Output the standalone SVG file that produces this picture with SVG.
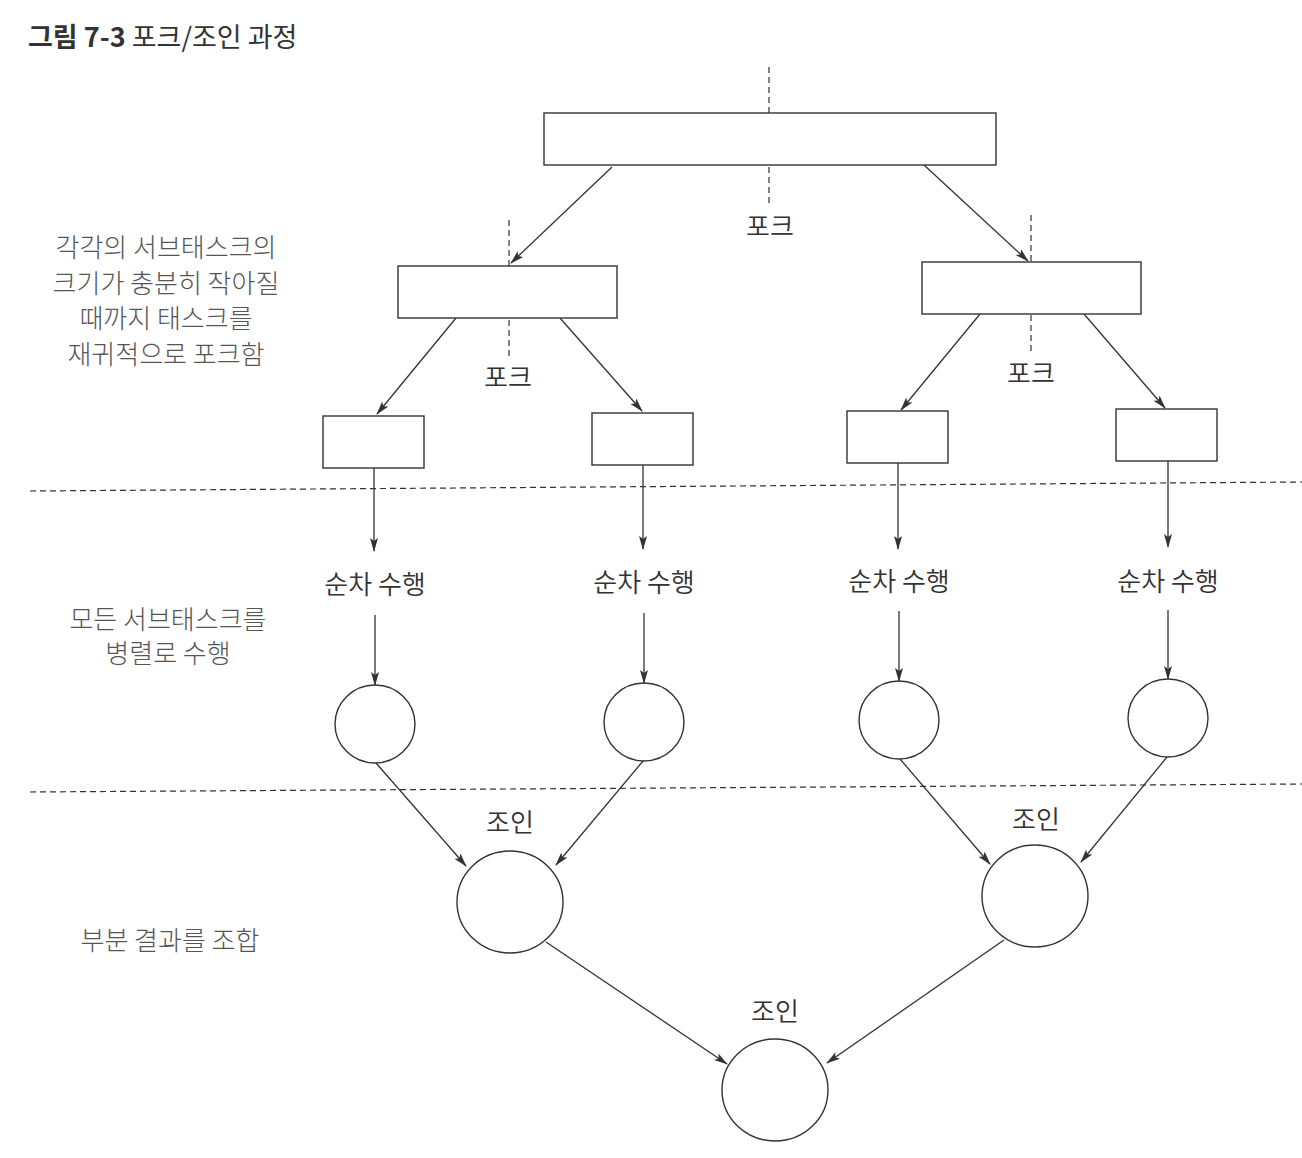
<svg xmlns="http://www.w3.org/2000/svg" width="1302" height="1158" viewBox="0 0 1302 1158">
<style>
.box{fill:#fff;stroke:#333;stroke-width:1.4}
.circ{fill:#fff;stroke:#333;stroke-width:1.4}
.edge{stroke:#333;stroke-width:1.3;fill:none}
.dash{stroke:#333;stroke-width:1.2;stroke-dasharray:6 4;fill:none}
.t{font-family:"Noto Sans CJK KR","Noto Sans",sans-serif;fill:#333;font-size:26px;text-anchor:middle;font-weight:350}
.side{font-family:"Noto Sans CJK KR","Noto Sans",sans-serif;fill:#555;font-size:26px;text-anchor:middle;font-weight:300}
.title{font-family:"Noto Sans CJK KR","Noto Sans",sans-serif;fill:#333;font-size:27px;font-weight:400}
</style>
<defs>
<marker id="ah" markerWidth="14" markerHeight="10" refX="13" refY="5" orient="auto" markerUnits="userSpaceOnUse">
<path d="M0,1 L14,5 L0,9 L3,5 Z" fill="#333"/>
</marker>
</defs>
<rect width="1302" height="1158" fill="#fff"/>
<text class="title" x="28" y="47"><tspan font-weight="700">그림 7-3</tspan> 포크/조인 과정</text>

<g id="guides">
<path class="dash" d="M30,491 L1302,482"/>
<path class="dash" d="M30,792 L1302,784"/>
<path class="dash" d="M769,67 V204"/>
<path class="dash" d="M509,220 V356"/>
<path class="dash" d="M1031,215 V352"/>
</g>

<g id="connectors">
<path class="edge" marker-end="url(#ah)" d="M612,167 L511,263"/>
<path class="edge" marker-end="url(#ah)" d="M924,165 L1028,261"/>
<path class="edge" marker-end="url(#ah)" d="M456,318 L377,414"/>
<path class="edge" marker-end="url(#ah)" d="M560,318 L642,411"/>
<path class="edge" marker-end="url(#ah)" d="M980,314 L901,410"/>
<path class="edge" marker-end="url(#ah)" d="M1084,314 L1165,408"/>
<path class="edge" marker-end="url(#ah)" d="M374,468 V551"/>
<path class="edge" marker-end="url(#ah)" d="M643,465 V549"/>
<path class="edge" marker-end="url(#ah)" d="M898,463 V549"/>
<path class="edge" marker-end="url(#ah)" d="M1168,461 V547"/>
<path class="edge" marker-end="url(#ah)" d="M375,615 V685"/>
<path class="edge" marker-end="url(#ah)" d="M644,613 V683"/>
<path class="edge" marker-end="url(#ah)" d="M899,611 V681"/>
<path class="edge" marker-end="url(#ah)" d="M1168,610 V679"/>
<path class="edge" marker-end="url(#ah)" d="M376,763 L466,866"/>
<path class="edge" marker-end="url(#ah)" d="M643,761 L556,865"/>
<path class="edge" marker-end="url(#ah)" d="M900,759 L990,864"/>
<path class="edge" marker-end="url(#ah)" d="M1167,757 L1081,862"/>
<path class="edge" marker-end="url(#ah)" d="M546,942 L727,1064"/>
<path class="edge" marker-end="url(#ah)" d="M1004,940 L827,1063"/>
</g>

<g id="n-root"><rect class="box" x="544" y="113" width="452" height="52"/></g>
<g id="n-left"><rect class="box" x="398" y="266" width="219" height="52"/></g>
<g id="n-right"><rect class="box" x="922" y="262" width="219" height="52"/></g>
<g id="n-ll"><rect class="box" x="323" y="416" width="101" height="52"/></g>
<g id="n-lr"><rect class="box" x="592" y="413" width="101" height="52"/></g>
<g id="n-rl"><rect class="box" x="847" y="411" width="101" height="52"/></g>
<g id="n-rr"><rect class="box" x="1116" y="409" width="101" height="52"/></g>

<g id="c1"><ellipse class="circ" cx="375" cy="724" rx="40" ry="39"/></g>
<g id="c2"><ellipse class="circ" cx="644" cy="722" rx="40" ry="39"/></g>
<g id="c3"><ellipse class="circ" cx="899" cy="720" rx="40" ry="39"/></g>
<g id="c4"><ellipse class="circ" cx="1168" cy="718" rx="40" ry="39"/></g>
<g id="j1"><ellipse class="circ" cx="510" cy="902" rx="53" ry="51"/></g>
<g id="j2"><ellipse class="circ" cx="1035" cy="896" rx="53" ry="51"/></g>
<g id="j3"><ellipse class="circ" cx="775" cy="1090" rx="53" ry="51"/></g>

<g id="labels">
<text class="t" x="770" y="236">포크</text>
<text class="t" x="508" y="387">포크</text>
<text class="t" x="1031" y="383">포크</text>
<text class="t" x="375" y="594">순차 수행</text>
<text class="t" x="644" y="592">순차 수행</text>
<text class="t" x="899" y="591">순차 수행</text>
<text class="t" x="1168" y="591">순차 수행</text>
<text class="t" x="510" y="832">조인</text>
<text class="t" x="1036" y="829">조인</text>
<text class="t" x="775" y="1021">조인</text>
</g>

<g id="side-notes">
<text class="side" x="166" y="257">각각의 서브태스크의</text>
<text class="side" x="166" y="293">크기가 충분히 작아질</text>
<text class="side" x="166" y="328">때까지 태스크를</text>
<text class="side" x="166" y="364">재귀적으로 포크함</text>
<text class="side" x="168" y="629">모든 서브태스크를</text>
<text class="side" x="168" y="663">병렬로 수행</text>
<text class="side" x="170" y="950">부분 결과를 조합</text>
</g>
</svg>
